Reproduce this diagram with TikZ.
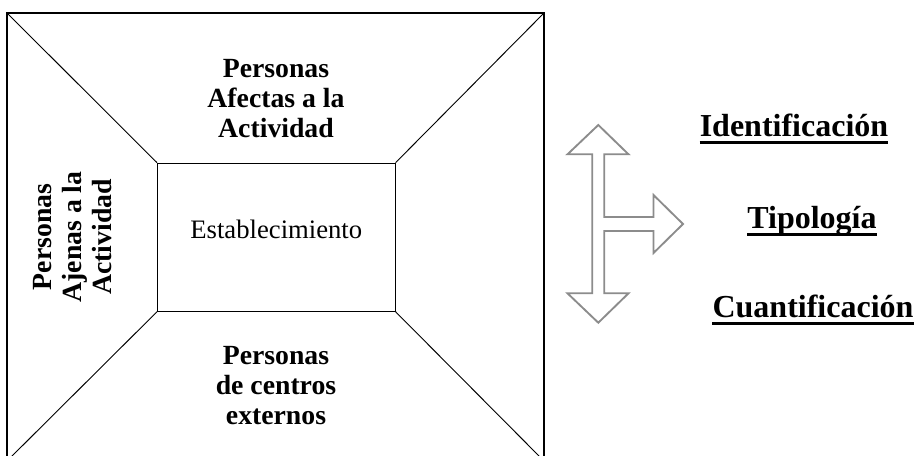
\documentclass[tikz,border=0pt]{standalone}
\usepackage{fontspec}
\setmainfont{Liberation Serif}
\begin{document}
\begin{tikzpicture}[x=0.75pt,y=-0.75pt,
  boxline/.style={draw=black,line width=0.8pt},
  diag/.style={draw=black,line width=0.7pt},
  arrowline/.style={draw=black!45,line width=1.4pt,line join=miter},
  boxtext/.style={inner sep=0pt,align=center,font=\fontsize{20.8}{22.5}\selectfont\bfseries},
  sidetext/.style={inner sep=0pt,font=\fontsize{24}{28}\selectfont\bfseries},
  ulline/.style={draw=black,line width=1.8pt}]
\useasboundingbox (0,0) rectangle (917,455);
\clip (0,0) rectangle (917,455);
\fill[white] (0,0) rectangle (917,455);
% outer box and inner box
\coordinate (o1) at (7,13);
\coordinate (o2) at (544,13);
\coordinate (o3) at (544,461);
\coordinate (o4) at (7,461);
\node[draw=black,line width=0.8pt,minimum width=237.5*0.75pt,minimum height=148*0.75pt,inner sep=0pt] (est) at (276.3,237.2) {};
\node[inner sep=0pt,font=\fontsize{20}{22.5}\selectfont,anchor=base] (estl) at (276.3,238) {Establecimiento};
\draw[boxline] (o1) rectangle (o3);
\draw[diag] (o1) -- (est.north west);
\draw[diag] (o2) -- (est.north east);
\draw[diag] (o4) -- (est.south west);
\draw[diag] (o3) -- (est.south east);
% texts in the box
\node[boxtext] (afe) at (276,99) {Personas\\Afectas a la\\Actividad};
\node[boxtext] (ext) at (276,386) {Personas\\de centros\\externos};
\node[boxtext,rotate=90] (aje) at (73,237) {Personas\\Ajenas a la\\Actividad};
% arrow shape
\draw[arrowline] (598.3,125) -- (628.5,154.3) -- (604.3,154.3) -- (604.3,217)
  -- (653.5,217) -- (653.5,195) -- (683,224) -- (653.5,253) -- (653.5,231)
  -- (604.3,231) -- (604.3,293.3) -- (628.5,293.3) -- (598.3,322.7)
  -- (567.5,293.3) -- (592.3,293.3) -- (592.3,154.3) -- (567.5,154.3) -- cycle;
% right labels
\node[sidetext,anchor=base] (idf) at (794,136) {Identificación};
\node[sidetext,anchor=base] (tip) at (812,228) {Tipología};
\node[sidetext,anchor=base] (cua) at (813,317) {Cuantificación};
\draw[ulline] ([yshift=-5pt]idf.base west) -- ([yshift=-5pt]idf.base east);
\draw[ulline] ([yshift=-5pt]tip.base west) -- ([yshift=-5pt]tip.base east);
\draw[ulline] ([yshift=-5pt]cua.base west) -- ([yshift=-5pt]cua.base east);
\end{tikzpicture}
\end{document}
